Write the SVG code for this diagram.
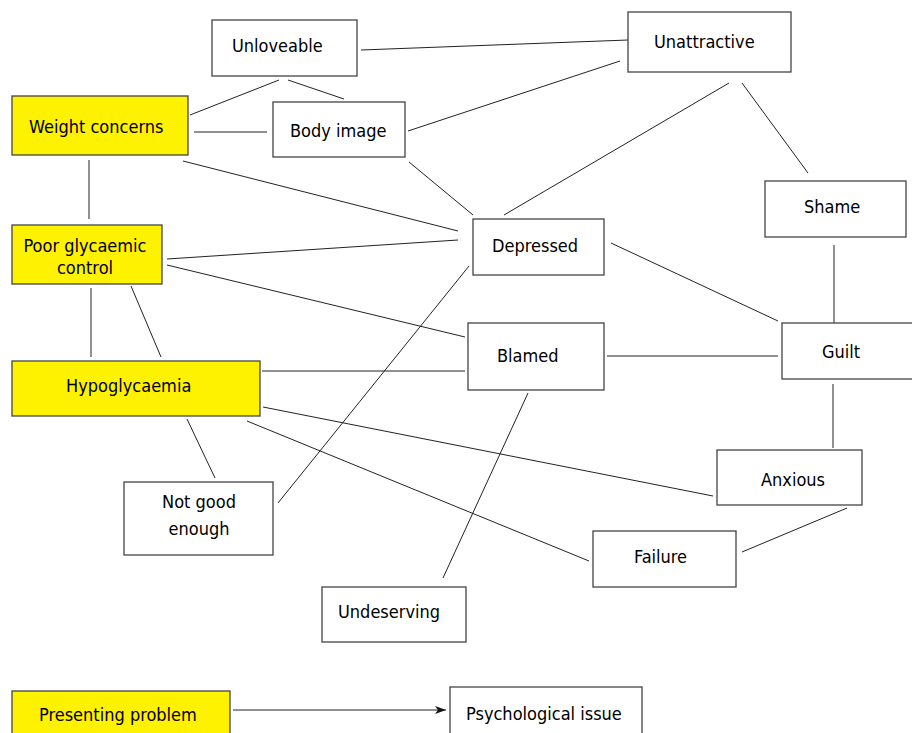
<svg xmlns="http://www.w3.org/2000/svg" width="912" height="733" viewBox="0 0 912 733">
<style>
.n rect{fill:#fff;stroke:#444;stroke-width:1.3}
.p rect{fill:#fff200;stroke:#444;stroke-width:1.3}
text{font-family:"DejaVu Sans Condensed","DejaVu Sans",sans-serif;font-size:18px;fill:#000}
#edges line{stroke:#222;stroke-width:1}
</style>
<defs>
<marker id="ah" markerWidth="12" markerHeight="10" refX="11" refY="5" orient="auto" markerUnits="userSpaceOnUse">
<path d="M0,1 L11,5 L0,9 L3,5 Z" fill="#111"/>
</marker>
</defs>
<rect width="912" height="733" fill="#fff"/>
<g id="edges">
<line x1="190" y1="115" x2="279" y2="80"/>
<line x1="288" y1="80" x2="344" y2="99"/>
<line x1="194" y1="132" x2="267" y2="132"/>
<line x1="89" y1="160" x2="89" y2="219"/>
<line x1="183" y1="161" x2="458" y2="231"/>
<line x1="167" y1="259" x2="458" y2="240"/>
<line x1="167" y1="265" x2="465" y2="337"/>
<line x1="361" y1="50" x2="628" y2="40"/>
<line x1="408" y1="131" x2="620" y2="61"/>
<line x1="409" y1="162" x2="473" y2="215"/>
<line x1="729" y1="83" x2="504" y2="215"/>
<line x1="742" y1="83" x2="808" y2="173"/>
<line x1="611" y1="243" x2="778" y2="321"/>
<line x1="834" y1="245" x2="834" y2="323"/>
<line x1="607" y1="356" x2="778" y2="356"/>
<line x1="469" y1="266" x2="278" y2="503"/>
<line x1="262" y1="371" x2="465" y2="371"/>
<line x1="91" y1="288" x2="91" y2="357"/>
<line x1="131" y1="286" x2="161" y2="357"/>
<line x1="187" y1="419" x2="215" y2="478"/>
<line x1="263" y1="407" x2="713" y2="496"/>
<line x1="247" y1="421" x2="589" y2="561"/>
<line x1="528" y1="393" x2="443" y2="578"/>
<line x1="833" y1="384" x2="833" y2="448"/>
<line x1="847" y1="508" x2="742" y2="552"/>
<line x1="233" y1="710" x2="446" y2="710" marker-end="url(#ah)"/>
</g>
<g id="unloveable" class="n"><rect x="212" y="20" width="145" height="56"/><text x="232" y="52">Unloveable</text></g>
<g id="weight-concerns" class="p"><rect x="12" y="96" width="176" height="59"/><text x="29" y="133">Weight concerns</text></g>
<g id="body-image" class="n"><rect x="273" y="102" width="132" height="55"/><text x="290" y="137">Body image</text></g>
<g id="poor-glycaemic-control" class="p"><rect x="12" y="225" width="150" height="59"/><text x="85" y="252" text-anchor="middle">Poor glycaemic</text><text x="85" y="274" text-anchor="middle">control</text></g>
<g id="unattractive" class="n"><rect x="628" y="12" width="163" height="60"/><text x="654" y="48">Unattractive</text></g>
<g id="shame" class="n"><rect x="765" y="181" width="141" height="56"/><text x="804" y="213">Shame</text></g>
<g id="depressed" class="n"><rect x="473" y="219" width="131" height="56"/><text x="492" y="252">Depressed</text></g>
<g id="guilt" class="n"><rect x="782" y="323" width="140" height="56"/><text x="822" y="358">Guilt</text></g>
<g id="blamed" class="n"><rect x="468" y="323" width="136" height="67"/><text x="497" y="362">Blamed</text></g>
<g id="hypoglycaemia" class="p"><rect x="12" y="361" width="248" height="55"/><text x="66" y="392">Hypoglycaemia</text></g>
<g id="not-good-enough" class="n"><rect x="124" y="482" width="149" height="73"/><text x="199" y="508" text-anchor="middle">Not good</text><text x="199" y="535" text-anchor="middle">enough</text></g>
<g id="anxious" class="n"><rect x="717" y="450" width="145" height="55"/><text x="761" y="486">Anxious</text></g>
<g id="failure" class="n"><rect x="593" y="531" width="143" height="56"/><text x="634" y="563">Failure</text></g>
<g id="undeserving" class="n"><rect x="322" y="587" width="144" height="55"/><text x="338" y="618">Undeserving</text></g>
<g id="presenting-problem" class="p"><rect x="12" y="691" width="218" height="60"/><text x="39" y="721">Presenting problem</text></g>
<g id="psychological-issue" class="n"><rect x="450" y="687" width="192" height="60"/><text x="466" y="720">Psychological issue</text></g>
</svg>
